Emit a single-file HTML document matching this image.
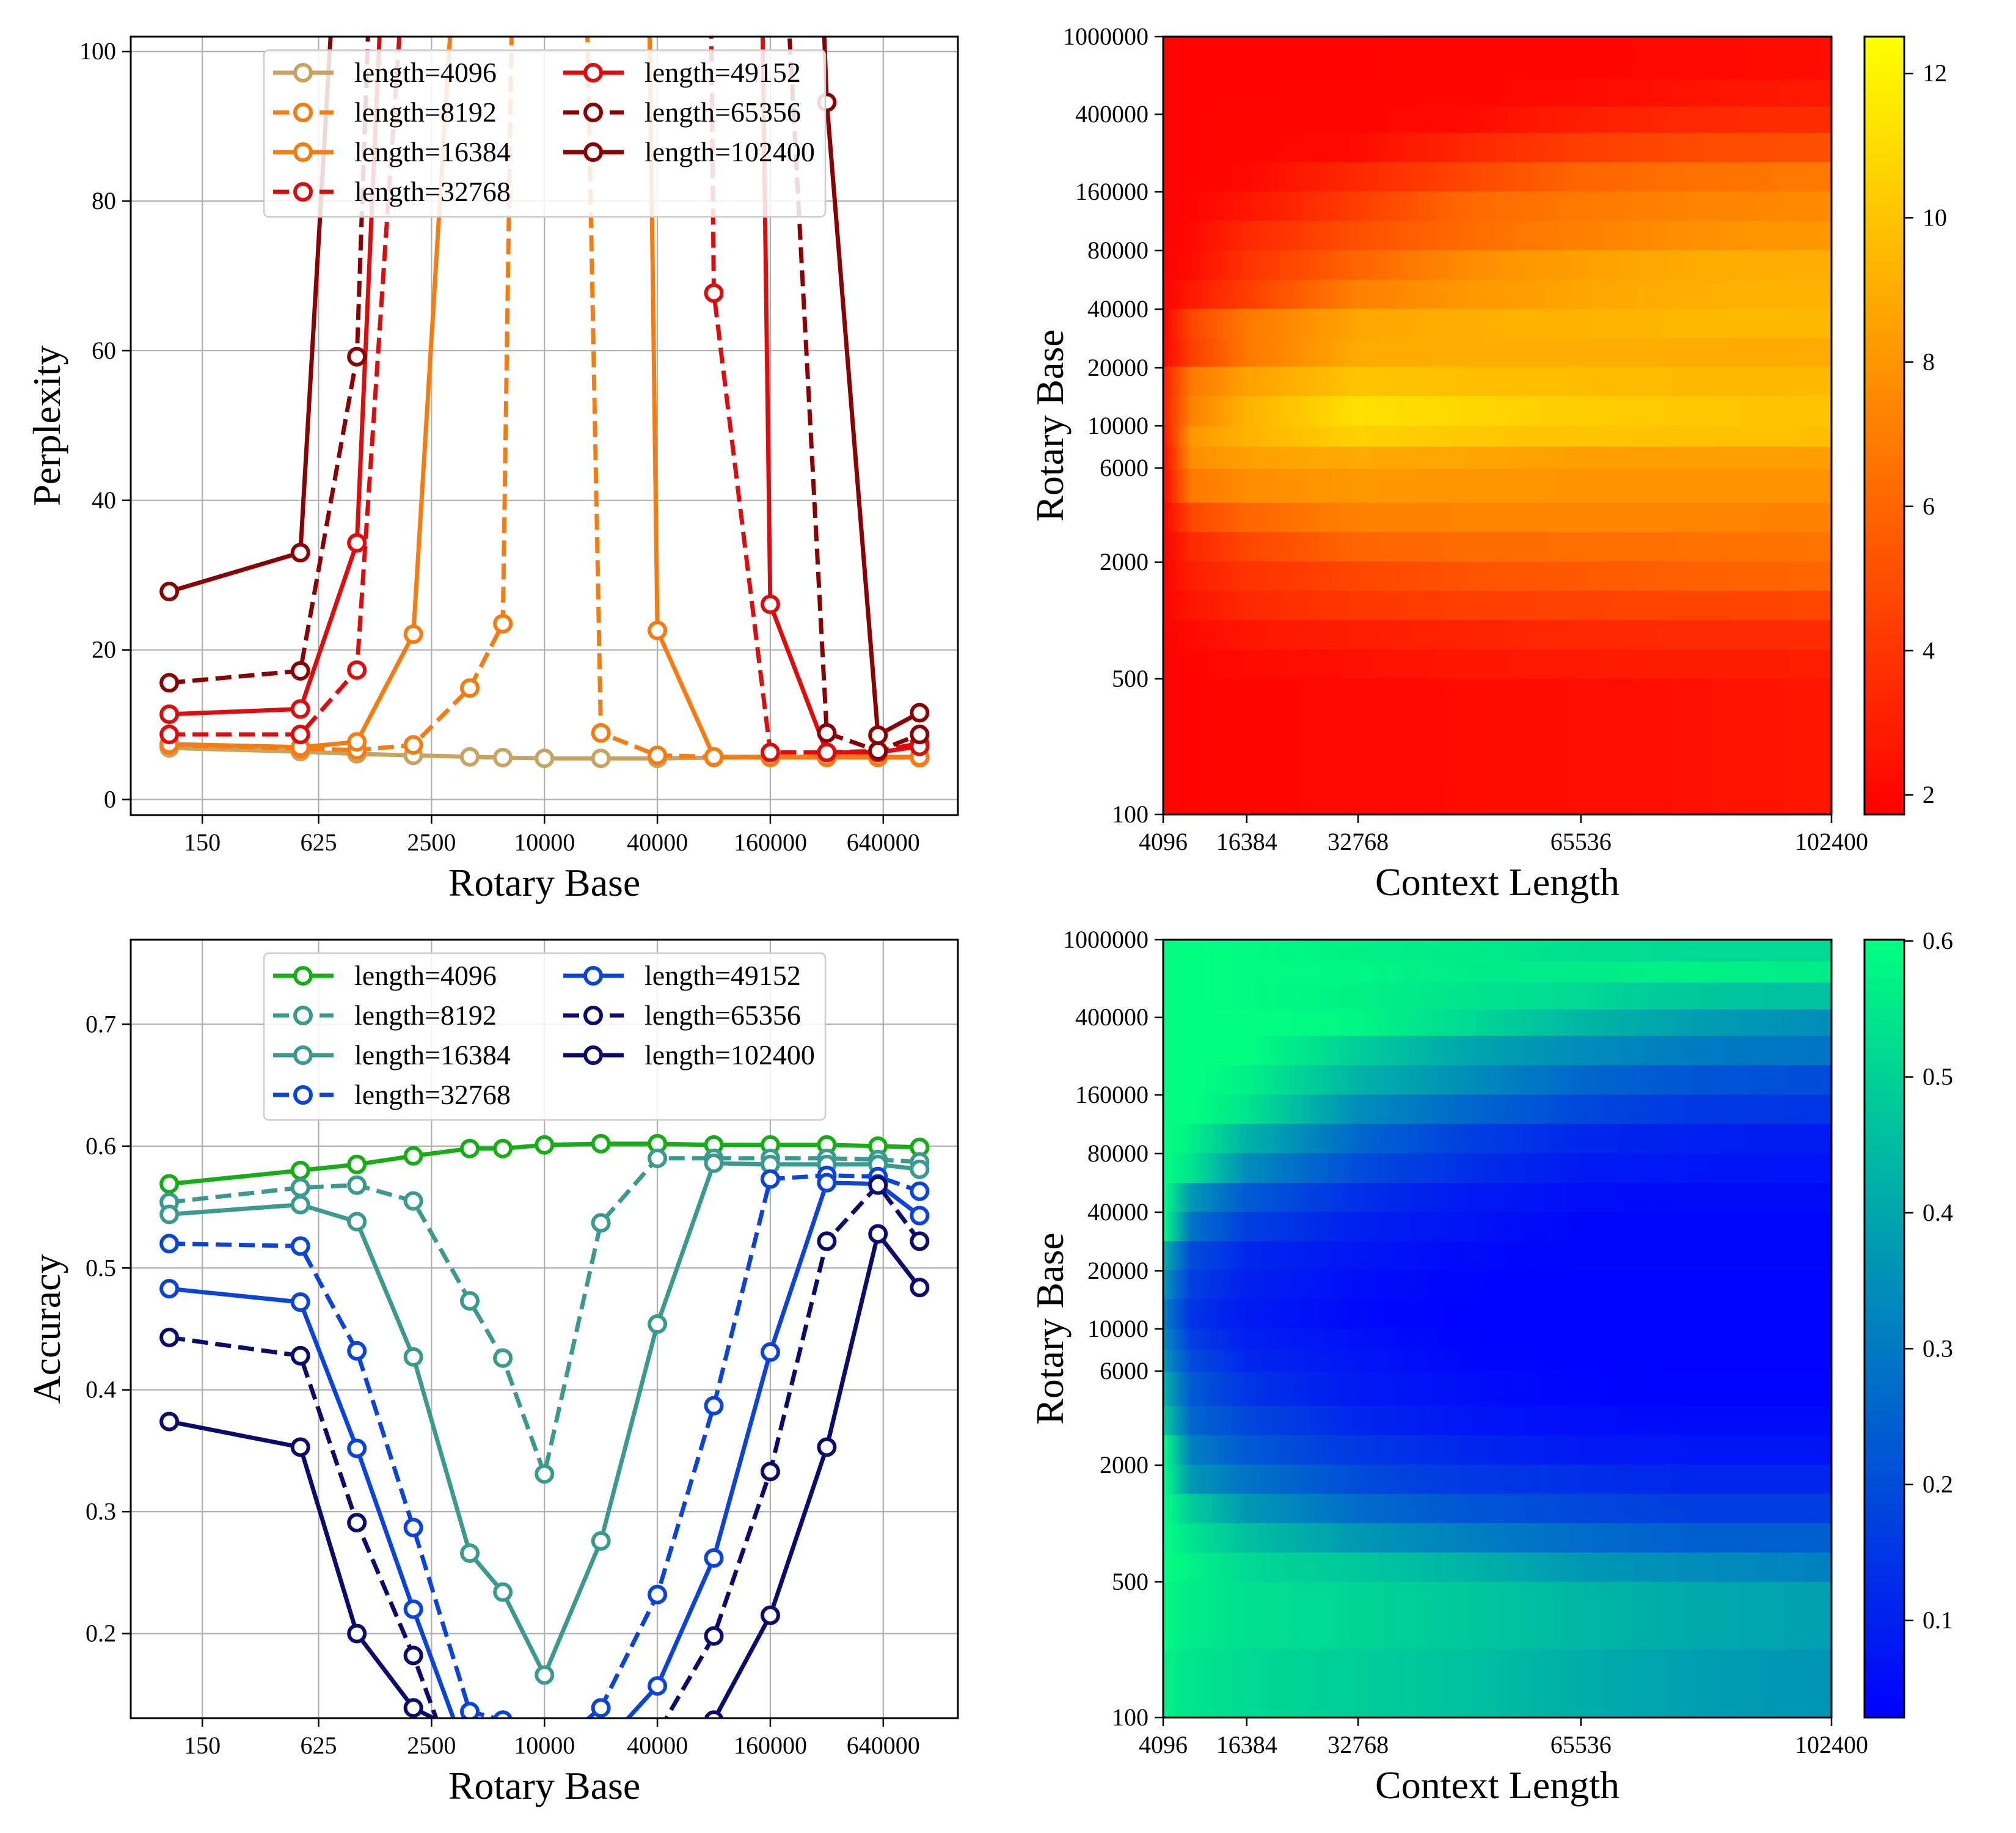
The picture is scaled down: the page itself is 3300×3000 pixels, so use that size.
<!DOCTYPE html>
<html><head><meta charset="utf-8"><title>Rotary base experiments</title>
<style>
html,body{margin:0;padding:0;background:#fff;}
svg{display:block;font-family:"Liberation Serif","DejaVu Serif",serif;}
</style></head>
<body>
<svg id="fig" xmlns="http://www.w3.org/2000/svg" width="3300" height="3000" viewBox="0 0 3300 3000">
<rect x="0" y="0" width="3300" height="3000" fill="#fff"/>
<defs id="defs"></defs>
</svg>
<script>
// ---------- data ----------
const rotaryBases = [100,500,1000,2000,4000,6000,10000,20000,40000,80000,160000,320000,600000,1000000];
const seriesLabels = ['length=4096','length=8192','length=16384','length=32768','length=49152','length=65356','length=102400'];
const ppl4096   = [6.9,6.4,6.1,5.9,5.7,5.6,5.5,5.5,5.5,5.6,5.6,5.6,5.6,5.6];
const ppl8192   = [7.3,6.8,6.6,7.3,14.9,23.5,400,8.9,5.9,5.7,5.7,5.7,5.7,5.6];
const ppl16384  = [7.4,7.0,7.7,22.1,145,300,500,600,22.6,5.7,5.7,5.7,5.7,5.7];
const ppl32768  = [8.7,8.7,17.3,130,300,500,900,1000,830,67.7,6.3,6.3,6.5,7.5];
const ppl49152  = [11.4,12.1,34.3,203,400,600,900,1000,900,588,26.1,6.3,6.3,7.1];
const ppl65356  = [15.6,17.2,59.2,278,500,700,1000,1000,1000,800,150,8.9,6.5,8.7];
const ppl102400 = [27.8,33.0,162,400,700,900,1000,1000,1000,1000,290,93.2,8.6,11.6];
const acc4096   = [.569,.580,.585,.592,.598,.598,.601,.602,.602,.601,.601,.601,.600,.599];
const acc8192   = [.554,.566,.568,.555,.473,.426,.331,.537,.590,.590,.590,.590,.589,.587];
const acc16384  = [.544,.552,.538,.427,.266,.234,.166,.276,.454,.586,.585,.585,.585,.581];
const acc32768  = [.520,.518,.432,.287,.136,.129,.100,.139,.232,.387,.573,.576,.575,.563];
const acc49152  = [.483,.472,.352,.220,.094,.070,.060,.106,.157,.262,.431,.570,.569,.543];
const acc65356  = [.443,.428,.291,.182,.055,.040,.040,.050,.118,.198,.333,.522,.568,.522];
const acc102400 = [.374,.353,.200,.139,.115,.050,.040,.050,.080,.129,.215,.353,.528,.484];
const xTickValues = [150,625,2500,10000,40000,160000,640000];
const pplYTicks = [0,20,40,60,80,100];
const accYTicks = [0.2,0.3,0.4,0.5,0.6,0.7];

const ctxLengths = [4096,8192,16384,32768,49152,65536,81920,102400];
const hmXTicks = [4096,16384,32768,65536,102400];
const hmYTickLabels = ['1000000','400000','160000','80000','40000','20000','10000','6000','2000','500','100'];
const pplCbarTicks = [2,4,6,8,10,12];
const accCbarTicks = [0.1,0.2,0.3,0.4,0.5,0.6];
const pplGrid = [
[1.9,1.9,1.9,1.9,2.0,2.0,2.1,2.3],
[1.9,1.9,1.9,1.9,2.0,2.0,2.1,2.3],
[1.9,1.9,1.9,2.0,2.0,2.2,2.5,2.8],
[1.9,1.9,2.0,2.0,2.2,3.0,3.4,3.6],
[1.9,1.9,2.0,2.2,3.4,4.3,4.8,5.1],
[1.9,1.9,2.1,3.4,4.7,6.0,6.5,6.8],
[1.9,2.0,2.6,4.3,6.2,6.8,7.3,7.6],
[1.9,2.1,3.4,5.1,6.3,7.2,7.8,8.1],
[1.9,2.2,3.9,6.0,7.7,8.5,8.9,9.1],
[1.9,2.8,4.3,7.2,8.1,8.7,9.1,9.3],
[1.9,4.7,6.8,8.7,9.1,9.3,9.5,9.6],
[2.0,4.3,6.8,8.9,9.1,9.1,9.0,8.9],
[3.0,6.8,8.5,10.0,9.8,9.7,9.6,9.6],
[3.0,7.2,9.3,11.2,10.8,10.4,10.2,10.0],
[2.6,8.1,9.3,10.6,10.2,10.0,9.9,9.8],
[2.2,7.7,8.5,8.9,8.7,8.5,8.5,8.5],
[2.2,6.8,7.7,8.1,8.0,7.9,7.9,7.9],
[2.0,4.7,6.0,7.2,7.3,7.4,7.4,7.2],
[1.9,3.4,4.7,6.0,6.3,6.4,6.5,6.6],
[1.9,3.0,3.9,4.7,5.3,5.5,5.8,6.0],
[1.9,2.6,3.4,4.1,4.4,4.5,4.6,4.7],
[1.9,2.2,2.6,3.0,3.2,3.4,3.5,3.6],
[1.9,2.0,2.2,2.4,2.6,2.8,2.9,3.0],
[1.9,1.9,2.0,2.1,2.2,2.3,2.4,2.6],
[1.9,1.9,2.0,2.1,2.2,2.3,2.4,2.6]
];
const accGrid = [
[.60,.60,.59,.57,.555,.53,.515,.515],
[.60,.60,.59,.58,.56,.555,.57,.56],
[.60,.60,.59,.57,.54,.515,.475,.46],
[.60,.60,.60,.58,.515,.44,.385,.345],
[.60,.60,.60,.49,.40,.345,.305,.29],
[.60,.60,.57,.43,.345,.26,.22,.20],
[.60,.60,.54,.345,.26,.19,.155,.145],
[.60,.57,.43,.26,.17,.115,.10,.085],
[.60,.54,.345,.20,.135,.085,.075,.07],
[.60,.37,.23,.135,.085,.06,.05,.05],
[.60,.29,.17,.10,.07,.045,.045,.045],
[.43,.20,.115,.075,.05,.04,.04,.04],
[.37,.17,.10,.06,.04,.03,.03,.03],
[.315,.145,.085,.05,.035,.03,.03,.03],
[.345,.17,.10,.065,.04,.03,.03,.03],
[.37,.20,.115,.075,.045,.035,.03,.03],
[.43,.23,.145,.085,.06,.04,.035,.035],
[.49,.26,.19,.115,.075,.06,.05,.05],
[.60,.315,.23,.155,.115,.085,.075,.075],
[.60,.37,.29,.20,.155,.135,.115,.115],
[.60,.49,.37,.27,.22,.19,.17,.17],
[.60,.54,.46,.37,.315,.27,.245,.245],
[.60,.57,.515,.475,.43,.37,.345,.315],
[.59,.555,.53,.51,.475,.44,.41,.385],
[.57,.54,.515,.49,.46,.42,.385,.36]
];

// ---------- layout (not data) ----------
const rowEdgeOffsets = [0,36,70,114,157,205,253,301,349,398,445,493,540,588,637,671,707,763,811,859,907,955,1003,1051,1161,1273];
const hmYTickOffsets = [0,127,254,350,446,542,637,706,860,1051,1273];
const pplColors = ['#c8a462','#f77b0e','#f77b0e','#e00b0b','#e00b0b','#8b0000','#8b0000'];
const accColors = ['#16ae16','#3a9a8e','#3a9a8e','#0a44dd','#0a44dd','#0b0b6e','#0b0b6e'];
const seriesDashed = [false,true,false,true,false,true,false];
const LW = 7, DASH = '26 12', MR = 13, MW = 6;

const NS = 'http://www.w3.org/2000/svg';
const svg = document.getElementById('fig');
const defs = document.getElementById('defs');
function mk(tag, attrs, parent){
  const e = document.createElementNS(NS, tag);
  for (const k in attrs) e.setAttribute(k, attrs[k]);
  (parent || svg).appendChild(e);
  return e;
}
function txt(x, y, s, size, anchor, parent){
  const t = mk('text', {x:x, y:y, 'font-size':size, 'text-anchor':anchor, fill:'#000'}, parent);
  t.textContent = s;
  return t;
}

// ---------- line charts ----------
function lineChart(opts){
  const L=214, R=1568, T=opts.top, B=opts.top+1274;
  const lx0=Math.log10(62.3), lx1=Math.log10(1.6e6);
  const xs = v => L + (Math.log10(v)-lx0)/(lx1-lx0)*(R-L);
  const ys = v => B - (v-opts.ymin)/(opts.ymax-opts.ymin)*(B-T);
  const g = mk('g', {});
  
  
  const cp = mk('clipPath', {id:opts.name+'-clip'}, defs);
  mk('rect', {x:L, y:T, width:R-L, height:B-T}, cp);
  xTickValues.forEach(v=>{
    const gl = mk('line', {x1:xs(v), x2:xs(v), y1:T, y2:B, stroke:'#b0b0b0', 'stroke-width':2.2}, g);
    
    
  });
  opts.yticks.forEach(v=>{
    const gl = mk('line', {x1:L, x2:R, y1:ys(v), y2:ys(v), stroke:'#b0b0b0', 'stroke-width':2.2}, g);
    
    
  });
  const sg = mk('g', {'clip-path':'url(#'+opts.name+'-clip)'}, g);
  opts.series.forEach((vals, i)=>{
    const pts = vals.map((v,j)=>xs(rotaryBases[j]).toFixed(1)+','+ys(v).toFixed(1)).join(' ');
    const pl = mk('polyline', {points:pts, fill:'none', stroke:opts.colors[i], 'stroke-width':LW, 'stroke-linejoin':'round', 'stroke-dasharray': seriesDashed[i] ? DASH : 'none'}, sg);
    
    
    vals.forEach((v,j)=>{
      const c = mk('circle', {cx:xs(rotaryBases[j]), cy:ys(v), r:MR, fill:'#fff', stroke:opts.colors[i], 'stroke-width':MW}, sg);
      
      
    });
  });
  const fr = mk('rect', {x:L, y:T, width:R-L, height:B-T, fill:'none', stroke:'#000', 'stroke-width':3}, g);
  
  
  xTickValues.forEach(v=>{
    mk('line', {x1:xs(v), x2:xs(v), y1:B, y2:B+14, stroke:'#000', 'stroke-width':2.5}, g);
    const t = txt(xs(v), B+58, String(v), 40, 'middle', g);
    
    
  });
  opts.yticks.forEach(v=>{
    mk('line', {x1:L-14, x2:L, y1:ys(v), y2:ys(v), stroke:'#000', 'stroke-width':2.5}, g);
    const t = txt(L-24, ys(v)+13, opts.fmt(v), 40, 'end', g);
    
    
  });
  const xl = txt((L+R)/2, B+132, 'Rotary Base', 64, 'middle', g);
  
  
  const yl = txt(0, 0, opts.ylabel, 64, 'middle', g);
  yl.setAttribute('transform', 'translate(98,'+((T+B)/2)+') rotate(-90)');
  
  
  const lg = mk('g', {}, g);
  
  
  mk('rect', {x:432, y:T+22, width:919, height:273, rx:8, fill:'#fff', 'fill-opacity':0.85, stroke:'#cccccc', 'stroke-width':2.5}, lg);
  seriesLabels.forEach((lab,i)=>{
    const col = i<4 ? 0 : 1, row = i<4 ? i : i-4;
    const x0 = col ? 922 : 447, cy = T+59+row*65;
    const e = mk('g', {}, lg);
    
    
    mk('line', {x1:x0, x2:x0+99, y1:cy, y2:cy, stroke:opts.colors[i], 'stroke-width':LW, 'stroke-dasharray': seriesDashed[i] ? DASH : 'none'}, e);
    mk('circle', {cx:x0+49, cy:cy, r:MR, fill:'#fff', stroke:opts.colors[i], 'stroke-width':MW}, e);
    txt(x0+133, cy+15, lab, 46, 'start', e);
  });
}
lineChart({name:'perplexity-chart', top:60, ymin:-2.08, ymax:101.98, yticks:pplYTicks, fmt:v=>String(v), ylabel:'Perplexity',
  series:[ppl4096,ppl8192,ppl16384,ppl32768,ppl49152,ppl65356,ppl102400], colors:pplColors});
lineChart({name:'accuracy-chart', top:1538, ymin:0.1306, ymax:0.7694, yticks:accYTicks, fmt:v=>v.toFixed(1), ylabel:'Accuracy',
  series:[acc4096,acc8192,acc16384,acc32768,acc49152,acc65356,acc102400], colors:accColors});

// ---------- heatmaps ----------
function autumn(t){ t=Math.max(0,Math.min(1,t)); return 'rgb(255,'+Math.round(255*t)+',0)'; }
function winter(t){ t=Math.max(0,Math.min(1,t)); return 'rgb(0,'+Math.round(255*t)+','+Math.round(255*(1-0.5*t))+')'; }
function heatmap(opts){
  const L=1904, R=2998, T=opts.top, B=opts.top+1273;
  const xs = v => L + (v-ctxLengths[0])/(ctxLengths[ctxLengths.length-1]-ctxLengths[0])*(R-L);
  const norm = v => (v-opts.vmin)/(opts.vmax-opts.vmin);
  const g = mk('g', {});
  
  
  opts.grid.forEach((row, r)=>{
    const gid = opts.name+'-row-'+r;
    const lg = mk('linearGradient', {id:gid, x1:0, x2:1, y1:0, y2:0}, defs);
    row.forEach((v,c)=>{
      mk('stop', {offset:((xs(ctxLengths[c])-L)/(R-L)).toFixed(4), 'stop-color':opts.cmap(norm(v))}, lg);
    });
    const y0 = T+rowEdgeOffsets[r], y1 = T+rowEdgeOffsets[r+1];
    const rc = mk('rect', {x:L, y:y0, width:R-L, height:y1-y0+0.6, fill:'url(#'+gid+')'}, g);
    
    
  });
  const fr = mk('rect', {x:L, y:T, width:R-L, height:B-T, fill:'none', stroke:'#000', 'stroke-width':3}, g);
  
  
  hmXTicks.forEach(v=>{
    mk('line', {x1:xs(v), x2:xs(v), y1:B, y2:B+14, stroke:'#000', 'stroke-width':2.5}, g);
    const t = txt(xs(v), B+58, String(v), 40, 'middle', g);
    
    
  });
  hmYTickLabels.forEach((lab,i)=>{
    const y = T+hmYTickOffsets[i];
    mk('line', {x1:L-14, x2:L, y1:y, y2:y, stroke:'#000', 'stroke-width':2.5}, g);
    const t = txt(L-24, y+13, lab, 40, 'end', g);
    
    
  });
  const xl = txt((L+R)/2, B+132, 'Context Length', 64, 'middle', g);
  
  
  const yl = txt(0, 0, 'Rotary Base', 64, 'middle', g);
  yl.setAttribute('transform', 'translate(1740,'+((T+B)/2)+') rotate(-90)');
  
  
  const CL=3052, CR=3117;
  const cg = mk('linearGradient', {id:opts.name+'-cbar', x1:0, x2:0, y1:1, y2:0}, defs);
  for (let k=0;k<=10;k++) mk('stop', {offset:k/10, 'stop-color':opts.cmap(k/10)}, cg);
  const cb = mk('rect', {x:CL, y:T, width:CR-CL, height:B-T, fill:'url(#'+opts.name+'-cbar)', stroke:'#000', 'stroke-width':3}, g);
  
  
  opts.cticks.forEach(v=>{
    const y = B - norm(v)*(B-T);
    mk('line', {x1:CR, x2:CR+15, y1:y, y2:y, stroke:'#000', 'stroke-width':2.5}, g);
    const t = txt(CR+30, y+13, opts.cfmt(v), 40, 'start', g);
    
    
  });
}
heatmap({name:'perplexity-heatmap', top:60, grid:pplGrid, cmap:autumn, vmin:1.73, vmax:12.51, cticks:pplCbarTicks, cfmt:v=>String(v)});
heatmap({name:'accuracy-heatmap', top:1538, grid:accGrid, cmap:winter, vmin:0.0285, vmax:0.601, cticks:accCbarTicks, cfmt:v=>v.toFixed(1)});
</script>
</body></html>
